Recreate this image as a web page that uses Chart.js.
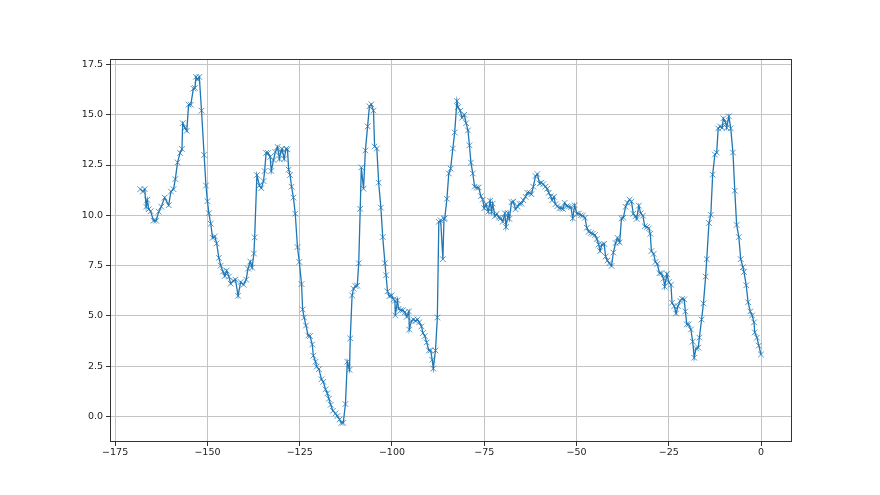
<!DOCTYPE html>
<html>
<head>
<meta charset="utf-8">
<script src="https://cdn.jsdelivr.net/npm/chart.js@4/dist/chart.umd.min.js"></script>
<style>
  body { margin: 0; background: #fff; }
  canvas { display: block; }
</style>
</head>
<body>
<canvas id="lineChart" width="880" height="495"></canvas>
<script>
var xs = [
  -168.2, -167.5, -167.0, -166.6, -166.3, -165.9, -165.4, -164.6, -163.9, -163.2,
  -162.5, -161.6, -160.5, -159.9, -159.2, -158.7, -158.1, -157.4, -156.9, -156.7,
  -156.1, -155.6, -155.1, -154.5, -153.8, -153.4, -153.1, -152.7, -152.2, -151.6,
  -150.9, -150.4, -150.0, -149.6, -149.1, -148.6, -148.0, -147.5, -146.9, -146.4,
  -145.8, -145.3, -144.8, -144.2, -143.7, -143.0, -142.4, -141.7, -141.0, -140.2,
  -139.5, -139.0, -138.4, -137.9, -137.4, -137.2, -136.6, -135.9, -135.4, -134.8,
  -134.5, -134.1, -133.6, -133.0, -132.7, -132.1, -131.6, -131.0, -130.5, -130.1,
  -129.8, -129.2, -128.7, -128.3, -128.0, -127.6, -127.2, -126.7, -126.2, -125.6,
  -125.1, -124.5, -124.2, -123.8, -123.3, -122.7, -122.2, -121.6, -121.3, -120.7,
  -120.4, -119.8, -119.1, -118.6, -118.0, -117.5, -117.1, -116.6, -116.0,
  -115.3, -114.8, -114.2, -113.7, -113.2, -112.6, -112.1, -111.5, -111.3, -110.8,
  -110.4, -109.9, -109.4, -109.0, -108.6, -108.3, -107.7, -107.2, -106.6, -106.1,
  -105.6, -105.0, -104.7, -104.1, -103.6, -103.0, -102.5, -101.9, -101.6, -101.2,
  -100.7, -100.1, -99.6, -99.2, -99.1, -98.5, -98.2, -97.6, -97.1, -96.5,
  -96.0, -95.4, -95.3, -94.7, -94.2, -93.6, -93.1, -92.6, -92.0, -91.6,
  -91.1, -90.6, -90.0, -89.5, -89.1, -88.8, -88.2, -87.7, -87.3, -86.8,
  -86.2, -85.9, -85.7, -85.1, -84.6, -84.1, -83.5, -83.0, -82.4, -82.1,
  -81.5, -81.0, -80.4, -79.9, -79.4, -79.0, -78.6, -78.1, -77.6, -77.0,
  -76.5, -75.9, -75.4, -75.0, -74.5, -73.9, -73.4, -73.0, -72.7, -72.1,
  -71.6, -71.0, -70.5, -70.0, -69.4, -69.1, -68.5,
  -68.2, -67.6, -67.1, -66.5, -66.0, -65.5, -64.9, -64.4, -63.8, -63.3,
  -62.7, -62.2, -61.7, -61.1, -60.6, -60.0, -59.5, -59.0, -58.4, -57.9,
  -57.5, -57.0, -56.6, -56.1, -55.7, -55.2, -54.6, -54.1, -53.7, -53.2,
  -52.6, -52.1, -51.5, -51.0, -50.5, -49.9, -49.4, -48.8, -48.3, -47.7,
  -47.2, -46.7, -46.1, -45.6, -45.0, -44.5, -44.0, -43.6, -43.1, -42.5,
  -42.1, -41.6, -41.1, -40.5, -40.0, -39.4, -38.9,
  -38.3, -37.8, -37.3, -36.7, -36.2, -35.6, -35.1, -34.6, -34.0, -33.7,
  -33.1, -32.6, -32.0, -31.5, -30.9, -30.4, -30.0, -29.7, -29.1, -28.6,
  -28.1, -27.5, -27.0, -26.4, -26.1, -25.5, -25.0, -24.4, -24.1, -23.5,
  -23.0, -22.5, -21.9, -21.4, -20.8, -20.5, -20.1, -19.6, -19.0, -18.5,
  -18.1, -17.6, -17.0, -16.7, -16.1, -15.6, -15.0, -14.7, -14.1, -13.6,
  -13.1, -12.5, -12.0, -11.6, -11.1, -10.5, -10.2, -9.6, -9.3, -8.7,
  -8.2, -7.6, -7.1, -6.6, -6.0, -5.5, -4.9, -4.6, -4.0, -3.5,
  -2.9, -2.4, -1.9, -1.7, -1.1, -0.6, 0.0
];

var ys = [
  11.30, 11.18, 11.30, 10.43, 10.77, 10.30, 10.20, 9.73, 9.73, 10.18,
  10.43, 10.88, 10.50, 11.18, 11.30, 11.80, 12.63, 13.10, 13.30, 14.58,
  14.35, 14.20, 15.50, 15.50, 16.30, 16.33, 16.88, 16.75, 16.88, 15.20,
  13.00, 11.48, 10.70, 10.10, 9.58, 8.88, 8.95, 8.60, 7.88, 7.50,
  7.20, 6.98, 7.25, 6.95, 6.60, 6.75, 6.80, 6.00, 6.68, 6.55,
  6.80, 7.35, 7.70, 7.40, 8.10, 8.90, 12.00, 11.48, 11.35, 11.70,
  12.20, 13.10, 13.10, 12.90, 12.20, 12.75, 13.15, 13.40, 12.80, 13.15,
  13.30, 12.80, 13.30, 13.28, 12.27, 12.00, 11.42, 10.88, 10.08, 8.42,
  7.68, 6.58, 5.32, 4.92, 4.52, 4.02, 4.00, 3.58, 3.02, 2.72,
  2.48, 2.35, 1.85, 1.72, 1.35, 1.15, 0.88, 0.58, 0.28,
  0.15, 0.02, -0.15, -0.32, -0.32, 0.62, 2.72, 2.32, 3.88, 6.02,
  6.35, 6.48, 6.50, 7.62, 10.32, 12.38, 11.32, 13.22, 14.42, 15.42,
  15.52, 15.20, 13.42, 13.32, 11.62, 10.38, 8.92, 7.62, 7.02, 6.22,
  5.98, 6.02, 5.82, 5.75, 5.02, 5.78, 5.35, 5.28, 5.28, 5.18,
  4.95, 5.22, 4.32, 4.75, 4.82, 4.75, 4.82, 4.68, 4.48, 4.15,
  4.00, 3.68, 3.28, 3.28, 2.82, 2.38, 3.28, 4.92, 9.68, 9.75,
  7.82, 9.82, 9.85, 10.82, 12.08, 12.32, 13.32, 14.12, 15.68, 15.38,
  15.20, 14.85, 15.00, 14.58, 14.22, 13.48, 12.62, 12.08, 11.42, 11.38,
  11.38, 10.95, 10.78, 10.35, 10.55, 10.18, 10.72, 10.18, 10.58, 9.95,
  10.08, 9.88, 9.85, 9.68, 10.10, 9.42, 10.10,
  9.82, 10.65, 10.68, 10.30, 10.43, 10.58, 10.58, 10.75, 10.92, 11.12,
  11.12, 11.05, 11.42, 11.95, 12.05, 11.58, 11.62, 11.55, 11.42, 11.32,
  11.12, 10.95, 10.75, 10.92, 10.55, 10.45, 10.35, 10.35, 10.32, 10.62,
  10.45, 10.43, 10.40, 9.85, 10.50, 10.08, 10.08, 10.00, 9.98, 9.88,
  9.38, 9.18, 9.12, 9.08, 9.02, 8.82, 8.55, 8.22, 8.55, 8.58,
  7.95, 7.75, 7.62, 7.48, 8.15, 8.62, 8.88,
  8.65, 9.85, 9.88, 10.42, 10.62, 10.78, 10.68, 10.08, 9.95, 9.82,
  10.48, 10.10, 9.98, 9.45, 9.42, 9.35, 9.08, 8.22, 8.08, 7.68,
  7.58, 7.12, 7.12, 6.85, 6.45, 7.08, 6.68, 6.55, 5.65, 5.48,
  5.12, 5.48, 5.75, 5.85, 5.82, 5.22, 4.58, 4.58, 4.32, 3.72,
  2.92, 3.38, 3.42, 3.92, 4.82, 5.62, 6.95, 7.82, 9.62, 10.02,
  12.02, 13.02, 13.12, 14.32, 14.42, 14.35, 14.82, 14.62, 14.35, 14.92,
  14.32, 13.12, 11.22, 9.52, 8.92, 7.82, 7.42, 7.18, 6.52, 5.68,
  5.22, 5.02, 4.68, 4.18, 3.92, 3.52, 3.08
];

var xTicks = [-175, -150, -125, -100, -75, -50, -25, 0];
var yTicks = [0, 2.5, 5, 7.5, 10, 12.5, 15, 17.5];

var points = xs.map(function (x, i) {
  return { x: x, y: ys[i] };
});

function minusSign(v) {
  return v < 0 ? "\u2212" + Math.abs(v) : String(v);
}

// full box around the plot, like matplotlib spines
var frame = {
  id: "frame",
  afterDraw: function (chart) {
    var a = chart.chartArea;
    var c = chart.ctx;
    c.save();
    c.strokeStyle = "#333";
    c.lineWidth = 1;
    c.strokeRect(a.left + 0.5, a.top + 0.5, a.right - a.left - 1, a.bottom - a.top - 1);
    c.restore();
  },
};

var ctx = document.getElementById("lineChart");
var lineChart = new Chart(ctx, {
  type: "line",
  data: {
    datasets: [
      {
        data: points,
        borderColor: "#1f77b4",
        borderWidth: 1.3,
        tension: 0,
        pointStyle: "crossRot",
        pointRadius: 4,
        pointBorderWidth: 1,
        pointBorderColor: "rgba(31,119,180,0.75)",
        pointBackgroundColor: "rgba(31,119,180,0.75)",
        pointHoverRadius: 4,
      },
    ],
  },
  options: {
    responsive: false,
    animation: false,
    layout: {
      padding: { top: 59, right: 88, left: 0, bottom: 0 },
    },
    plugins: {
      legend: { display: false },
      tooltip: { enabled: false },
    },
    scales: {
      x: {
        type: "linear",
        min: -176.4,
        max: 8.4,
        afterBuildTicks: function (scale) {
          scale.ticks = xTicks.map(function (v) { return { value: v }; });
        },
        afterFit: function (scale) {
          scale.height = 53;
        },
        grid: {
          color: "#c4c4c4",
          lineWidth: 1,
          tickColor: "#333",
          tickLength: 4,
        },
        border: { display: false },
        ticks: {
          autoSkip: false,
          maxRotation: 0,
          padding: 1,
          color: "#222",
          font: { family: "DejaVu Sans", size: 9.5 },
          callback: function (v) { return minusSign(v); },
        },
      },
      y: {
        type: "linear",
        min: -1.27,
        max: 17.77,
        afterBuildTicks: function (scale) {
          scale.ticks = yTicks.map(function (v) { return { value: v }; });
        },
        afterFit: function (scale) {
          scale.width = 110;
        },
        grid: {
          color: "#c4c4c4",
          lineWidth: 1,
          tickColor: "#333",
          tickLength: 4,
        },
        border: { display: false },
        ticks: {
          autoSkip: false,
          padding: 3,
          color: "#222",
          font: { family: "DejaVu Sans", size: 9.5 },
          callback: function (v) { return v.toFixed(1); },
        },
      },
    },
  },
  plugins: [frame],
});
</script>
</body>
</html>
